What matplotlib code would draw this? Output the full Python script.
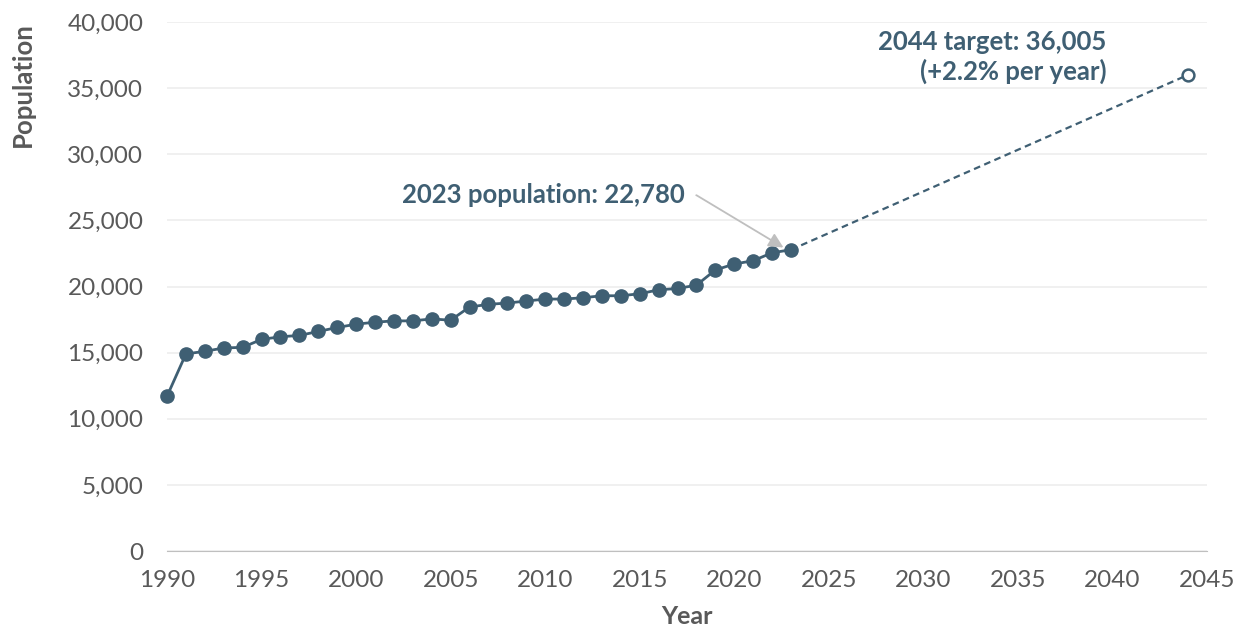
import numpy as np
import matplotlib.pyplot as plt

# ---------------- data ----------------
years = list(range(1990, 2024))
population = [11700, 14900, 15100, 15350, 15400, 16000, 16200, 16300, 16600, 16900,
              17150, 17300, 17400, 17400, 17550, 17450, 18450, 18650, 18750, 18900,
              19050, 19050, 19150, 19300, 19300, 19450, 19750, 19850, 20100, 21250,
              21700, 21950, 22550, 22780]
target_year = 2044
target_pop = 36005

line_color = "#3F5F73"
text_gray = "#595959"

plt.rcParams['font.family'] = ['Lato', 'DejaVu Sans']

fig = plt.figure(figsize=(12.49, 6.3), dpi=100)
ax = fig.add_axes([167/1249, 1 - 551/630, (1207-167)/1249, (551-22)/630])

# historical series
ax.plot(years, population, color=line_color, lw=2, marker='o', ms=9.5, zorder=3,
        clip_on=False)
# projection
ax.plot([years[-1], target_year], [population[-1], target_pop], color=line_color,
        lw=1.6, ls=(0, (3, 2)), zorder=2)
ax.plot([target_year], [target_pop], marker='o', ms=8.5, mfc='white', mec=line_color,
        mew=1.8, zorder=4)

ax.set_xlim(1990, 2045)
ax.set_ylim(0, 40000)
ax.set_xticks(range(1990, 2046, 5))
ax.set_yticks(range(0, 40001, 5000))
ax.yaxis.set_major_formatter(plt.FuncFormatter(lambda v, p: f"{int(v):,}"))
ax.grid(axis='y', color='#EEEEEE', lw=1.2)
ax.set_axisbelow(True)
for s in ['top', 'right', 'left']:
    ax.spines[s].set_visible(False)
ax.spines['bottom'].set_color('#BFBFBF')
ax.tick_params(axis='both', labelsize=17.5, labelcolor=text_gray)
ax.tick_params(axis='y', length=0, pad=17)
ax.tick_params(axis='x', length=0, pad=14)

ax.set_xlabel("Year", fontsize=18, fontweight='bold', color=text_gray, labelpad=10)
ax.set_ylabel("Population", fontsize=18.5, fontweight='bold', color=text_gray, loc='top')
ax.yaxis.set_label_coords(-0.127, 1.0)

# annotations
ax.annotate("2023 population: 22,780", xy=(2022.6, 22950), xytext=(2017.4, 26900),
            ha='right', va='center', fontsize=18.5, fontweight='bold', color=line_color,
            arrowprops=dict(arrowstyle='-|>', color='#BFBFBF', lw=1.3,
                            mutation_scale=22,
                            connectionstyle='angle,angleA=0,angleB=149,rad=0',
                            shrinkA=6, shrinkB=0))
ax.text(2039.7, 37350, "2044 target: 36,005\n(+2.2% per year)", ha='right', va='center',
        fontsize=18.5, fontweight='bold', color=line_color, linespacing=1.2)

fig.savefig("out.png", dpi=100)
